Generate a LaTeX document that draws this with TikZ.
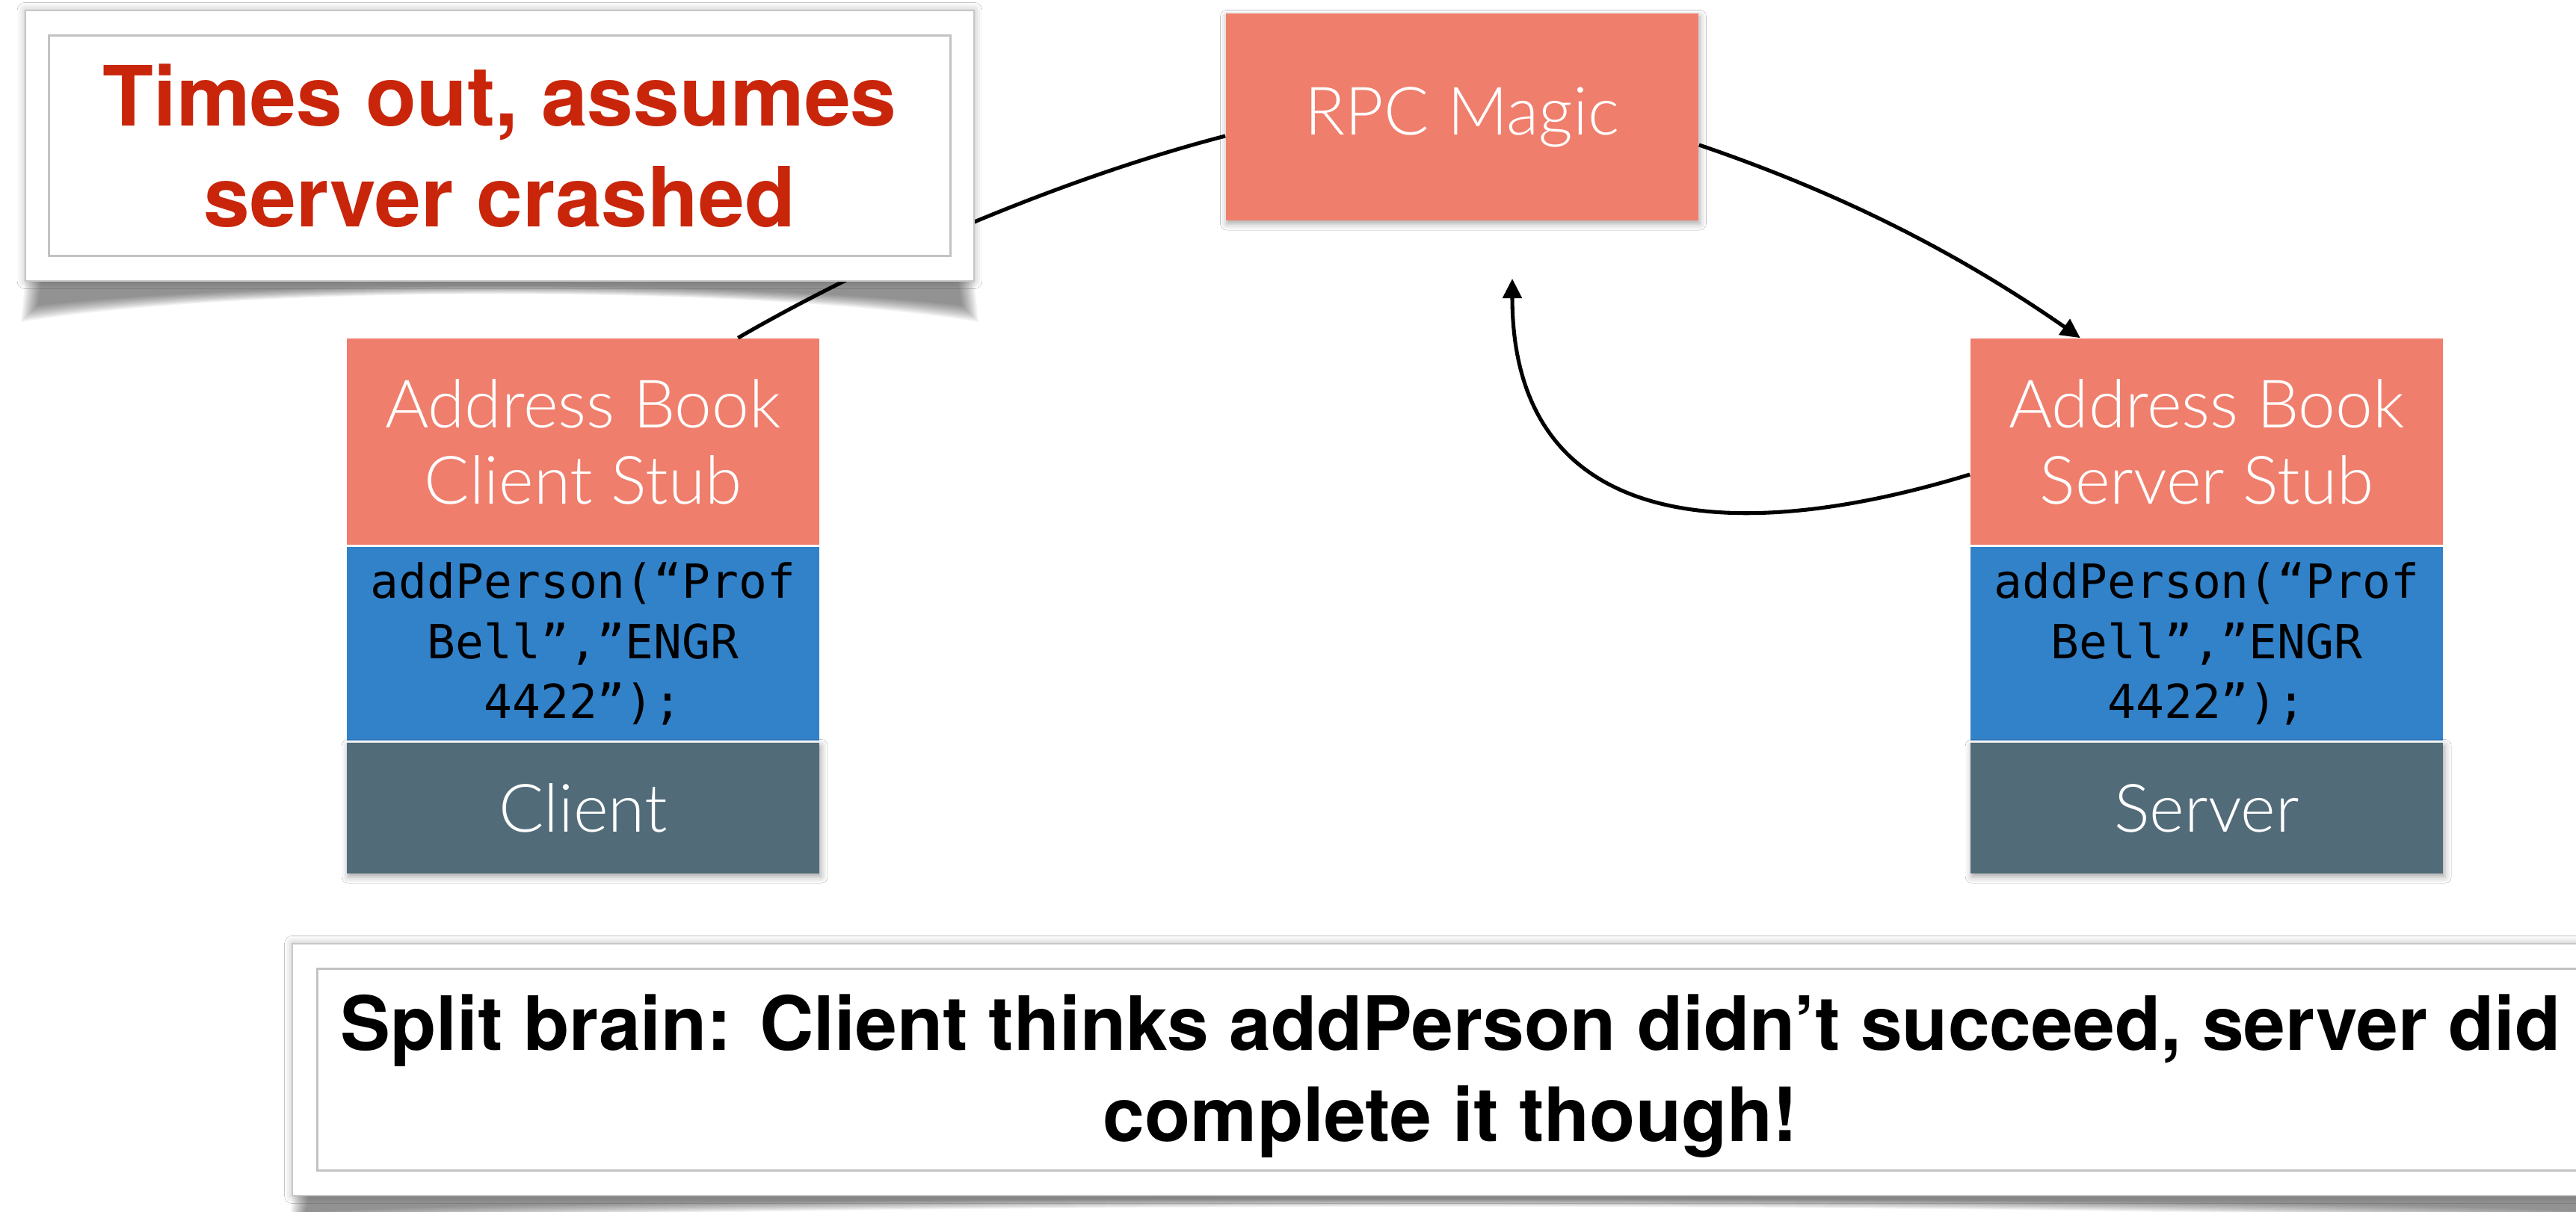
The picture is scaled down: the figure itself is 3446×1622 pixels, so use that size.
\documentclass[tikz,border=0pt]{standalone}
\usepackage{fontspec}
\usetikzlibrary{arrows.meta,shadows.blur,calc}

\newfontfamily\lightfont{Lato Light}
\newfontfamily\heavyfont{TeX Gyre Heros}
\newfontfamily\codefont{DejaVu Sans Mono}

\definecolor{salmon}{HTML}{EF7E6C}
\definecolor{codeblue}{HTML}{3282CA}
\definecolor{slate}{HTML}{516B79}
\definecolor{alertred}{HTML}{C8250A}

% soft "curled paper" shadow under a note card: left, right, bottom edge, depth
\newcommand\curlshadow[4]{%
  \foreach \s in {0,2,...,22}{%
    \fill[black, opacity=0.042]
      (#1+\s, #3-4) -- (#2-\s, #3-4) -- (#2+6-\s, #3+#4-\s)
      .. controls (#2-300, #3+5-0.3*\s) and (#1+300, #3+5-0.3*\s) ..
      (#1-6+\s, #3+#4-\s) -- cycle;
  }%
}

\tikzset{
  block/.style={rectangle, inner sep=0pt, minimum width=6.32cm, text=white, align=center},
  stubbox/.style={block, fill=salmon, minimum height=2.76cm,
    font=\lightfont\fontsize{25.4}{29}\selectfont},
  codebox/.style={block, fill=codeblue, text=black, minimum height=2.59cm,
    font=\codefont\fontsize{17.9}{22.8}\selectfont},
  hostbox/.style={block, fill=slate, minimum height=1.75cm,
    font=\lightfont\fontsize{25.4}{29}\selectfont,
    blur shadow={shadow xshift=0.6pt, shadow yshift=-1.2pt, shadow blur radius=2.5pt, shadow opacity=35}},
  magicbox/.style={block, fill=salmon, minimum height=2.77cm,
    font=\lightfont\fontsize{25.4}{29}\selectfont,
    blur shadow={shadow xshift=0.4pt, shadow yshift=-1.2pt, shadow blur radius=2.5pt, shadow opacity=35}},
  link/.style={line width=1.45pt, black},
  arrowend/.style={-{Triangle[length=0.26cm,width=0.25cm]}},
  noteouter/.style={rectangle, fill=white, draw=black!22, line width=0.6pt, inner sep=0pt,
    blur shadow={shadow xshift=0pt, shadow yshift=0pt, shadow blur radius=3pt, shadow opacity=30}},
  noteinner/.style={rectangle, fill=white, draw=black!24, line width=0.8pt, inner sep=0pt, align=center},
}

\begin{document}
\begin{tikzpicture}[x=0.01cm, y=-0.01cm]
  \useasboundingbox (0,0) rectangle (3446,1622);
  \clip (0,0) rectangle (3446,1622);
  \fill[white] (0,0) rectangle (3446,1622);

  % client side stack
  \node[stubbox] (cstub) at (780,591) {Address Book\\Client Stub};
  \node[codebox] (ccode) at (780,861.5) {addPerson(“Prof\\Bell”,”ENGR\\4422”);};
  \node[hostbox] (chost) at (780,1081.5) {Client};

  % server side stack
  \node[stubbox] (sstub) at (2952,591) {Address Book\\Server Stub};
  \node[codebox] (scode) at (2952,861.5) {addPerson(“Prof\\Bell”,”ENGR\\4422”);};
  \node[hostbox] (shost) at (2952,1081.5) {Server};

  % transport in the middle
  \node[magicbox] (rpc) at (1956,156.5) {RPC Magic};

  % connector end points
  \coordinate (c1s) at ($(cstub.north west)!0.827!(cstub.north east)$);
  \coordinate (c1e) at ($(rpc.west)+(0,25.5)$);
  \coordinate (c2s) at ($(rpc.east)+(0,37.5)$);
  \coordinate (c2e) at ($(sstub.north west)!0.233!(sstub.north east)$);
  \coordinate (c3s) at ($(sstub.west)+(0,44)$);
  \coordinate (c3e) at (2023,373);

  \draw[link] (c1s) .. controls (1177,342) and (1427,237) .. (c1e);
  \draw[link, arrowend] (c2s) .. controls (2461,258) and (2619,338) .. (c2e);
  \draw[link, arrowend] (c3s) .. controls (2301,737) and (2023,703) .. (c3e);

  % timeout note
  \curlshadow{34}{1303}{376}{55}
  \node[noteouter, minimum width=12.69cm, minimum height=3.62cm] (note1) at (668.5,195) {};
  \node[noteinner, minimum width=12.05cm, minimum height=2.95cm,
        font=\heavyfont\bfseries\fontsize{31.6}{38.4}\selectfont, text=alertred]
        (note1in) at (note1.center) {Times out, assumes\\server crashed};

  % split-brain note
  \curlshadow{392}{3489}{1600}{45}
  \node[noteouter, minimum width=30.97cm, minimum height=3.37cm] (note2) at (1940.5,1431.5) {};
  \node[noteinner, minimum width=30.31cm, minimum height=2.70cm] (note2in) at (note2.center) {};
  \node[align=center, inner sep=0pt, font=\heavyfont\bfseries\fontsize{28.5}{34.7}\selectfont, text=black]
        (note2txt) at ($(note2in.center)+(0,9)$) {Split brain: Client thinks addPerson didn’t succeed, server did\\complete it though!};
\end{tikzpicture}
\end{document}
